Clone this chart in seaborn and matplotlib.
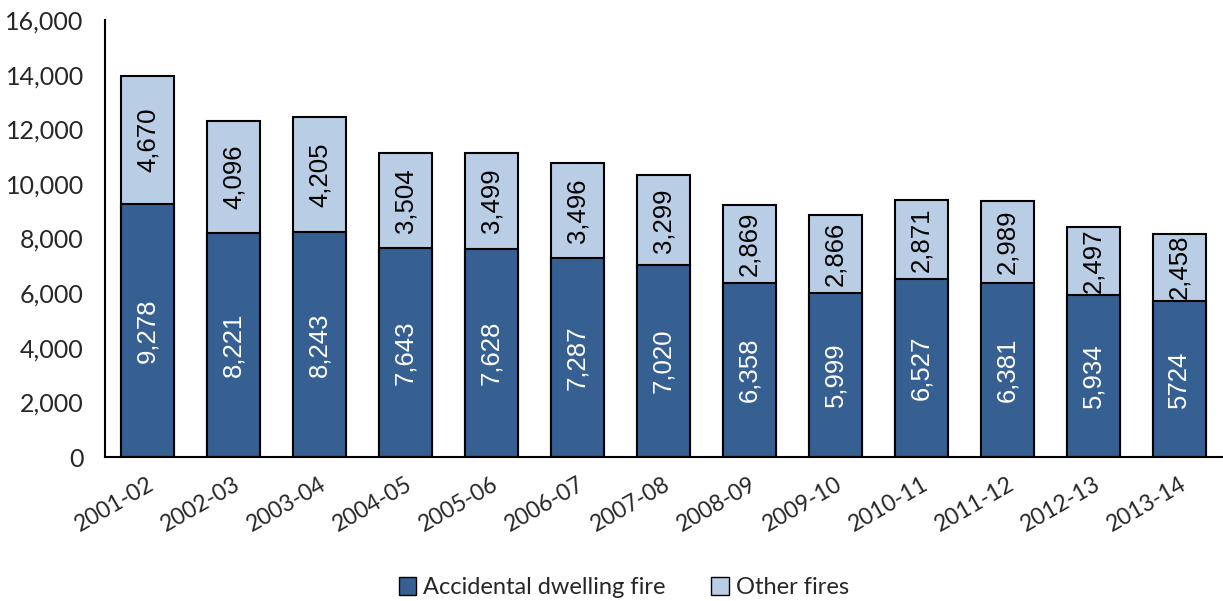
import matplotlib
matplotlib.use('Agg')
import matplotlib.pyplot as plt
from matplotlib.patches import Patch
from matplotlib.ticker import FuncFormatter, MultipleLocator
import numpy as np
import pandas as pd
import seaborn as sns

years = ['2001-02', '2002-03', '2003-04', '2004-05', '2005-06', '2006-07', '2007-08',
         '2008-09', '2009-10', '2010-11', '2011-12', '2012-13', '2013-14']
accidental = [9278, 8221, 8243, 7643, 7628, 7287, 7020, 6358, 5999, 6527, 6381, 5934, 5724]
other = [4670, 4096, 4205, 3504, 3499, 3496, 3299, 2869, 2866, 2871, 2989, 2497, 2458]
accidental_labels = ['9,278', '8,221', '8,243', '7,643', '7,628', '7,287', '7,020',
                     '6,358', '5,999', '6,527', '6,381', '5,934', '5724']
other_labels = ['4,670', '4,096', '4,205', '3,504', '3,499', '3,496', '3,299',
                '2,869', '2,866', '2,871', '2,989', '2,497', '2,458']

dark = '#376092'
light = '#B9CDE5'

df = pd.DataFrame({'year': years, 'accidental': accidental, 'other': other})
df['total'] = df['accidental'] + df['other']

sns.set_style('white')
plt.rcParams['font.family'] = ['Lato', 'DejaVu Sans']

fig = plt.figure(figsize=(12.23, 6.01), dpi=100)
ax = fig.add_axes([0.0855, 0.2396, 0.914, 0.727])

# stacked bars: total drawn first, accidental on top of it
sns.barplot(data=df, x='year', y='total', color=light, width=0.62,
            edgecolor='black', linewidth=1.5, saturation=1, ax=ax)
sns.barplot(data=df, x='year', y='accidental', color=dark, width=0.62,
            edgecolor='black', linewidth=1.5, saturation=1, ax=ax)

for i in range(len(years)):
    ax.text(i, accidental[i] / 2, accidental_labels[i], rotation=90, ha='center', va='center',
            color='white', fontsize=18.5, family='Liberation Sans')
    ax.text(i, accidental[i] + other[i] / 2, other_labels[i], rotation=90, ha='center', va='center',
            color='black', fontsize=18.5, family='Liberation Sans')

ax.set_xlim(-0.5, len(years) - 0.5)
ax.set_ylim(0, 16000)
ax.yaxis.set_major_locator(MultipleLocator(2000))
ax.yaxis.set_major_formatter(FuncFormatter(lambda v, p: f'{int(v):,}'))
ax.set_xlabel('')
ax.set_ylabel('')

ax.set_xticks(np.arange(len(years)))
ax.set_xticklabels(years, rotation=30, ha='right', rotation_mode='anchor', fontsize=16.5)
ax.set_xticks(np.arange(len(years) + 1) - 0.5, minor=True)
ax.tick_params(axis='x', which='major', length=0, pad=12)
ax.tick_params(axis='x', which='minor', length=6, width=1.3, direction='out')
ax.tick_params(axis='y', length=6, width=1.3, direction='out', labelsize=18, pad=9)

for s in ['top', 'right']:
    ax.spines[s].set_visible(False)
for s in ['left', 'bottom']:
    ax.spines[s].set_color('black')
    ax.spines[s].set_linewidth(1.5)

handles = [Patch(facecolor=dark, edgecolor='black', label='Accidental dwelling fire'),
           Patch(facecolor=light, edgecolor='black', label='Other fires')]
fig.legend(handles=handles, loc='center', bbox_to_anchor=(0.51, 0.022), ncol=2, frameon=False,
           fontsize=17, handlelength=0.75, handleheight=0.75, handletextpad=0.3, columnspacing=1.9)

fig.savefig('out.png', dpi=100)
